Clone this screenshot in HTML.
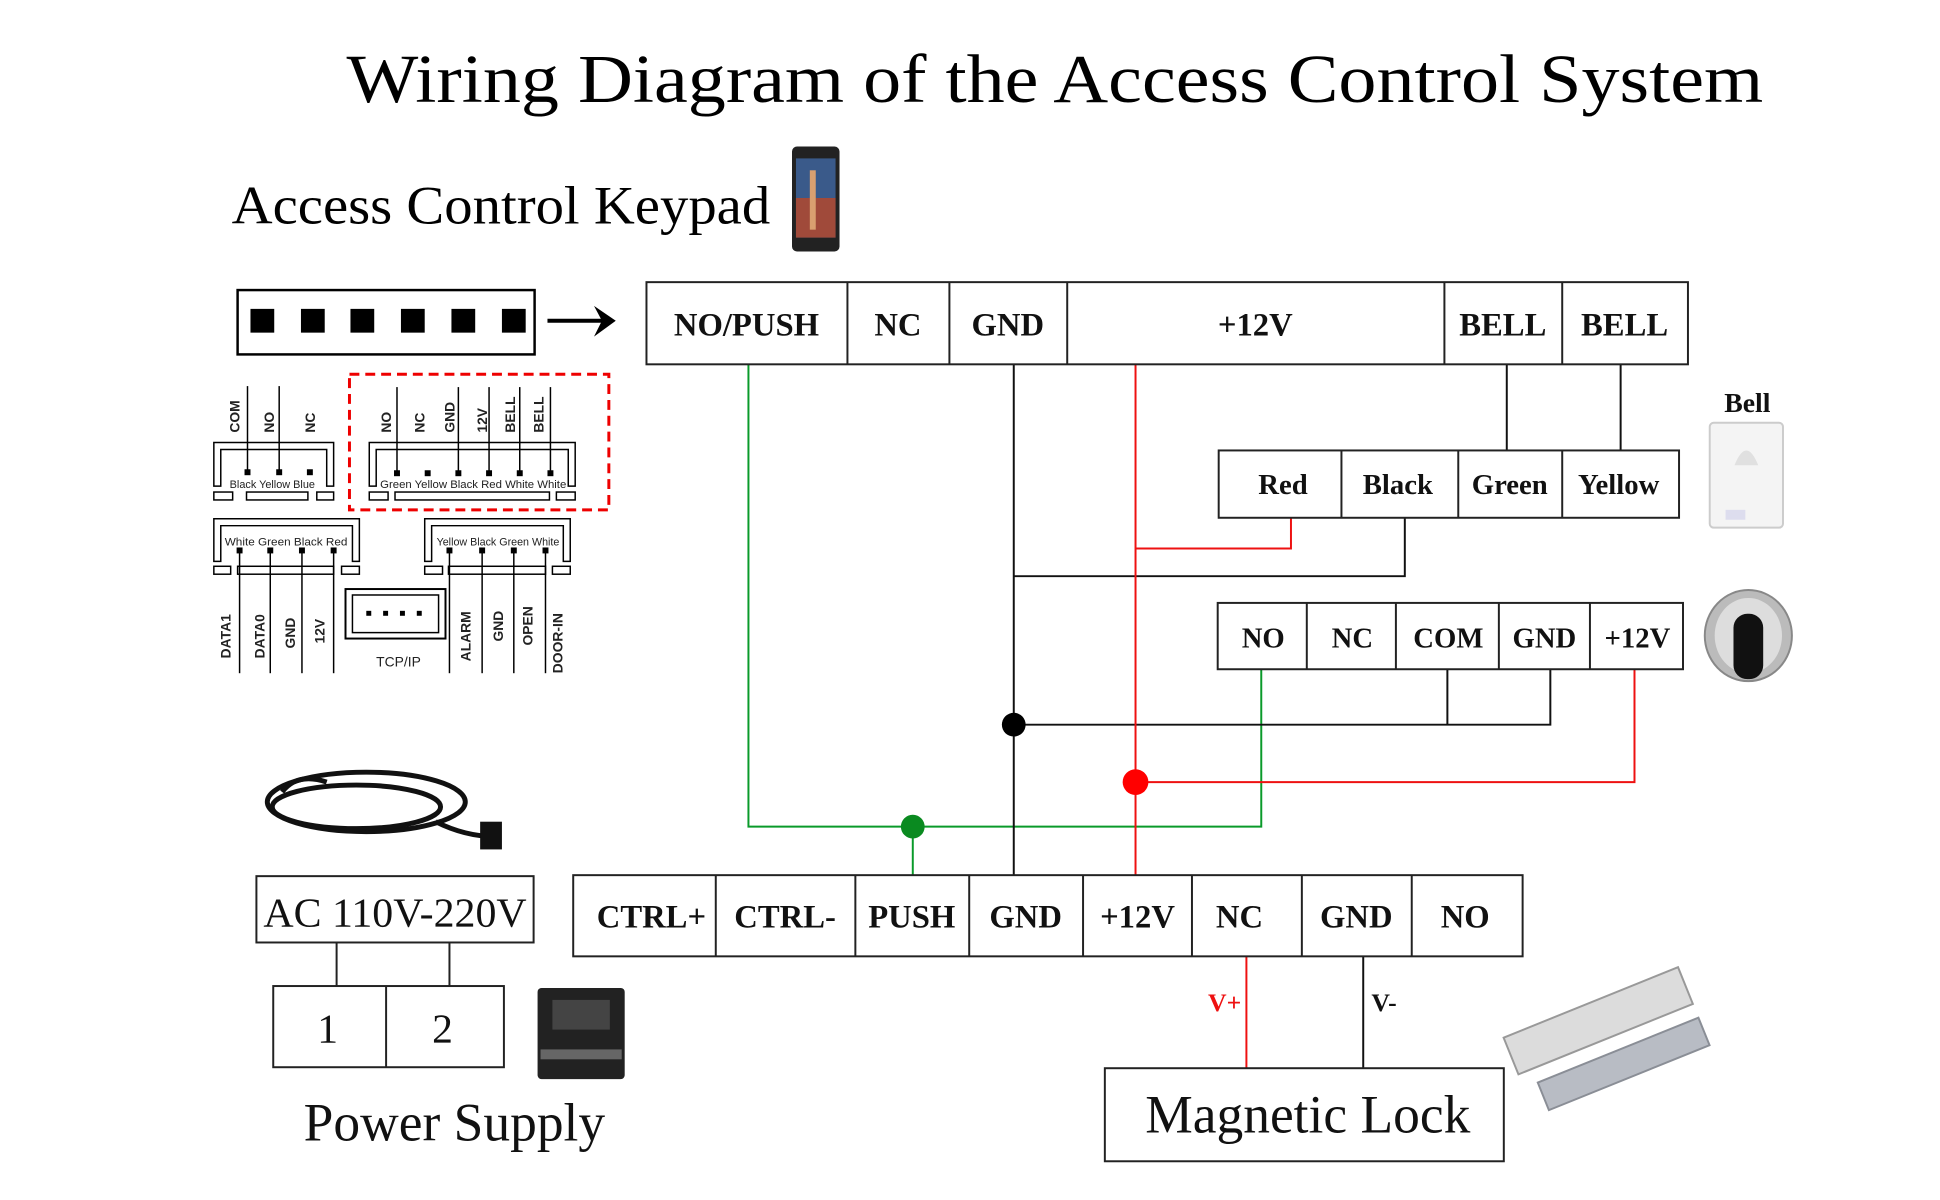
<!DOCTYPE html>
<html><head><meta charset="utf-8"><style>html,body{margin:0;padding:0;background:#fff;width:1940px;height:1200px;overflow:hidden}svg{display:block}</style></head><body>
<svg width="1940" height="1200" viewBox="0 0 1940 1200" xmlns="http://www.w3.org/2000/svg" font-family="Liberation Serif, serif">
<g transform="scale(0.99)">
<text x="350" y="103" font-size="70" textLength="1431" lengthAdjust="spacingAndGlyphs">Wiring Diagram of the Access Control System</text>
<text x="234" y="226" font-size="54" textLength="544" lengthAdjust="spacingAndGlyphs">Access Control Keypad</text>
<!-- phone -->
<rect x="800" y="148" width="48" height="106" rx="5" fill="#222"/>
<rect x="804" y="160" width="40" height="80" fill="#3a5a8a"/>
<rect x="804" y="200" width="40" height="40" fill="#a04a3a"/>
<rect x="818" y="172" width="6" height="60" fill="#d9a070"/>
<!-- pin box -->
<g fill="#000">
<rect x="240" y="293" width="300" height="65" fill="none" stroke="#000" stroke-width="2.5"/>
<rect x="253" y="312" width="24" height="24"/><rect x="304" y="312" width="24" height="24"/><rect x="354" y="312" width="24" height="24"/><rect x="405" y="312" width="24" height="24"/><rect x="456" y="312" width="24" height="24"/><rect x="507" y="312" width="24" height="24"/>
<line x1="553" y1="324" x2="612" y2="324" stroke="#000" stroke-width="4"/>
<path d="M600 309 L622 324 L600 340 L608 324 Z"/>
</g>
<rect x="353" y="378" width="262" height="137" fill="none" stroke="#e00" stroke-width="3" stroke-dasharray="10,6"/>
<g fill="none" stroke="#000" stroke-width="1.5">
<path d="M216 491 V447 H337 V491 H330 V454 H223 V491 Z"/>
<rect x="216" y="497" width="19" height="8"/><rect x="249" y="497" width="62" height="8"/><rect x="320" y="497" width="17" height="8"/>
<line x1="250" y1="390" x2="250" y2="477"/><line x1="282" y1="390" x2="282" y2="477"/>
<path d="M373 491 V447 H581 V491 H574 V454 H380 V491 Z"/>
<rect x="373" y="497" width="19" height="8"/><rect x="399" y="497" width="156" height="8"/><rect x="562" y="497" width="19" height="8"/>
<line x1="401" y1="391" x2="401" y2="478"/><line x1="463" y1="391" x2="463" y2="478"/><line x1="494" y1="391" x2="494" y2="478"/><line x1="525" y1="391" x2="525" y2="478"/><line x1="556" y1="391" x2="556" y2="478"/>
<path d="M216 567 V524 H363 V567 H356 V531 H223 V567 Z"/>
<rect x="216" y="572" width="17" height="8"/><rect x="240" y="572" width="97" height="8"/><rect x="345" y="572" width="18" height="8"/>
<line x1="242" y1="556" x2="242" y2="680"/><line x1="273" y1="556" x2="273" y2="680"/><line x1="305" y1="556" x2="305" y2="680"/><line x1="337" y1="556" x2="337" y2="680"/>
<path d="M429 567 V524 H576 V567 H569 V531 H436 V567 Z"/>
<rect x="429" y="572" width="18" height="8"/><rect x="453" y="572" width="98" height="8"/><rect x="558" y="572" width="18" height="8"/>
<line x1="454" y1="556" x2="454" y2="680"/><line x1="487" y1="556" x2="487" y2="680"/><line x1="519" y1="556" x2="519" y2="680"/><line x1="551" y1="556" x2="551" y2="680"/>
<rect x="349" y="595" width="101" height="50" stroke-width="2"/><rect x="356" y="601" width="87" height="38"/>
</g>
<g fill="#000">
<rect x="247" y="474" width="6" height="6"/><rect x="279" y="474" width="6" height="6"/><rect x="310" y="474" width="6" height="6"/>
<rect x="398" y="475" width="6" height="6"/><rect x="429" y="475" width="6" height="6"/><rect x="460" y="475" width="6" height="6"/><rect x="491" y="475" width="6" height="6"/><rect x="522" y="475" width="6" height="6"/><rect x="553" y="475" width="6" height="6"/>
<rect x="239" y="553" width="6" height="6"/><rect x="270" y="553" width="6" height="6"/><rect x="302" y="553" width="6" height="6"/><rect x="334" y="553" width="6" height="6"/>
<rect x="451" y="553" width="6" height="6"/><rect x="484" y="553" width="6" height="6"/><rect x="516" y="553" width="6" height="6"/><rect x="548" y="553" width="6" height="6"/>
<rect x="370" y="617" width="5" height="5"/><rect x="387" y="617" width="5" height="5"/><rect x="404" y="617" width="5" height="5"/><rect x="421" y="617" width="5" height="5"/>
</g>
<g font-family="Liberation Sans, sans-serif" font-size="11" fill="#222">
<text x="232" y="493">Black Yellow Blue</text>
<text x="384" y="493" textLength="188" lengthAdjust="spacingAndGlyphs">Green Yellow Black Red White White</text>
<text x="227" y="551" textLength="124" lengthAdjust="spacingAndGlyphs">White Green Black Red</text>
<text x="441" y="551" textLength="124" lengthAdjust="spacingAndGlyphs">Yellow Black Green White</text>
<text x="380" y="673" font-size="14">TCP/IP</text>
</g>
<g font-family="Liberation Sans, sans-serif" font-size="14" font-weight="bold" fill="#222">
<text transform="translate(242,437) rotate(-90)">COM</text>
<text transform="translate(277,437) rotate(-90)">NO</text>
<text transform="translate(318,437) rotate(-90)">NC</text>
<text transform="translate(395,437) rotate(-90)">NO</text>
<text transform="translate(429,437) rotate(-90)">NC</text>
<text transform="translate(459,437) rotate(-90)">GND</text>
<text transform="translate(492,437) rotate(-90)">12V</text>
<text transform="translate(520,437) rotate(-90)">BELL</text>
<text transform="translate(549,437) rotate(-90)">BELL</text>
<text transform="translate(233,665) rotate(-90)">DATA1</text>
<text transform="translate(267,665) rotate(-90)">DATA0</text>
<text transform="translate(298,655) rotate(-90)">GND</text>
<text transform="translate(328,650) rotate(-90)">12V</text>
<text transform="translate(475,668) rotate(-90)">ALARM</text>
<text transform="translate(508,648) rotate(-90)">GND</text>
<text transform="translate(538,652) rotate(-90)">OPEN</text>
<text transform="translate(568,680) rotate(-90)">DOOR-IN</text>
</g>
<g fill="none" stroke-width="2">
<path d="M756 368 V835 H1274 V676 M922 835 V884" stroke="#0a9a2a"/>
<path d="M1024 368 V884 M1024 582 H1419 V523 M1024 732 H1566 V676 M1462 732 V676 M1522 368 V455 M1637 368 V455 M1377 966 V1079" stroke="#111"/>
<path d="M1147 368 V884 M1147 554 H1304 V523 M1147 790 H1651 V676 M1259 966 V1079" stroke="#e11"/>
</g>
<circle cx="922" cy="835" r="12" fill="#0a8a20"/>
<circle cx="1024" cy="732" r="12" fill="#000"/>
<circle cx="1147" cy="790" r="13" fill="#f00"/>
<g fill="none" stroke="#222" stroke-width="2">
<rect x="653" y="285" width="1052" height="83"/>
<path d="M856 285V368M959 285V368M1078 285V368M1459 285V368M1578 285V368"/>
<rect x="1231" y="455" width="465" height="68"/>
<path d="M1355 455V523M1473 455V523M1578 455V523"/>
<rect x="1230" y="609" width="470" height="67"/>
<path d="M1320 609V676M1410 609V676M1514 609V676M1606 609V676"/>
<rect x="579" y="884" width="959" height="82"/>
<path d="M723 884V966M864 884V966M979 884V966M1094 884V966M1204 884V966M1315 884V966M1426 884V966"/>
<rect x="259" y="885" width="280" height="67"/>
<path d="M340 952V996M454 952V996"/>
<rect x="276" y="996" width="233" height="82"/>
<path d="M390 996V1078"/>
<rect x="1116" y="1079" width="403" height="94"/>
</g>
<g font-weight="bold" font-size="33" text-anchor="middle" fill="#111">
<text x="754" y="339">NO/PUSH</text><text x="907" y="339">NC</text><text x="1018" y="339">GND</text><text x="1268" y="339">+12V</text><text x="1518" y="339">BELL</text><text x="1641" y="339">BELL</text>
<text x="658" y="937">CTRL+</text><text x="793" y="937">CTRL-</text><text x="921" y="937">PUSH</text><text x="1036" y="937">GND</text><text x="1149" y="937">+12V</text><text x="1252" y="937">NC</text><text x="1370" y="937">GND</text><text x="1480" y="937">NO</text>
</g>
<g font-weight="bold" font-size="29" text-anchor="middle" fill="#111">
<text x="1296" y="499">Red</text><text x="1412" y="499">Black</text><text x="1525" y="499">Green</text><text x="1635" y="499">Yellow</text>
<text x="1276" y="654">NO</text><text x="1366" y="654">NC</text><text x="1463" y="654">COM</text><text x="1560" y="654">GND</text><text x="1654" y="654">+12V</text>
<text x="1765" y="416" font-size="28">Bell</text>
<text x="1237" y="1021" font-size="26" fill="#e11">V+</text>
<text x="1398" y="1021" font-size="26">V-</text>
</g>
<g font-size="46" text-anchor="middle" fill="#111">
<text x="399" y="936" font-size="42" textLength="266" lengthAdjust="spacingAndGlyphs">AC 110V-220V</text>
<text x="331" y="1053" font-size="42">1</text><text x="447" y="1053" font-size="42">2</text>
<text x="459" y="1152" font-size="54">Power Supply</text>
<text x="1321" y="1144" font-size="54">Magnetic Lock</text>
</g>
<rect x="1727" y="427" width="74" height="106" rx="4" fill="#f4f4f4" stroke="#ccc" stroke-width="2"/>
<path d="M1752 470 Q1764 440 1776 470 Z" fill="#e0e0e0"/>
<rect x="1743" y="515" width="20" height="10" fill="#dde"/>
<ellipse cx="1766" cy="642" rx="44" ry="46" fill="#bbb" stroke="#888" stroke-width="2"/>
<ellipse cx="1766" cy="642" rx="34" ry="38" fill="#ddd"/>
<rect x="1751" y="620" width="30" height="66" rx="14" fill="#111"/>
<g fill="none" stroke="#111" stroke-width="5">
<ellipse cx="370" cy="810" rx="100" ry="30"/><ellipse cx="360" cy="815" rx="85" ry="22"/><path d="M330 790 Q300 780 285 800 M440 830 Q470 845 500 845"/>
</g>
<rect x="485" y="830" width="22" height="28" fill="#111"/>
<rect x="543" y="998" width="88" height="92" rx="4" fill="#222"/>
<rect x="558" y="1010" width="58" height="30" fill="#444"/>
<rect x="546" y="1060" width="82" height="10" fill="#666"/>
<g transform="rotate(-22 1620 1045)">
<rect x="1525" y="1010" width="190" height="40" fill="#dcdcdc" stroke="#999" stroke-width="2"/>
<rect x="1540" y="1065" width="175" height="30" fill="#b8bcc4" stroke="#8a8e96" stroke-width="2"/>
</g>
</g>
</svg>
</body></html>
